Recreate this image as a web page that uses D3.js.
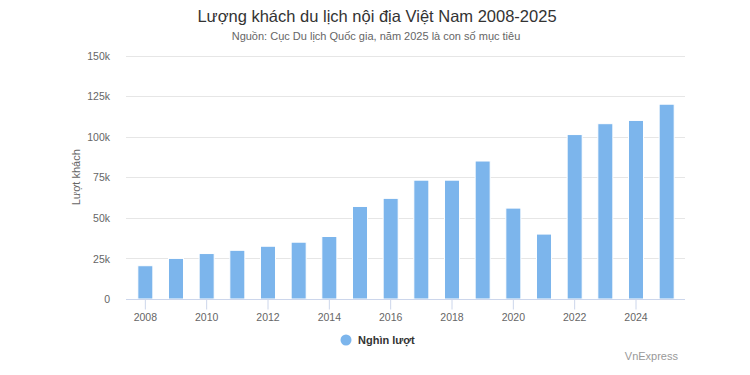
<!DOCTYPE html>
<html>
<head>
<meta charset="utf-8">
<script src="https://cdn.jsdelivr.net/npm/d3@7"></script>
<style>
  body { margin: 0; background: #fff; }
  svg { font-family: "Liberation Sans", Arial, sans-serif; }
</style>
</head>
<body>
<div id="chart"></div>
<script>
// Chart data
const years = [2008, 2009, 2010, 2011, 2012, 2013, 2014, 2015, 2016,
               2017, 2018, 2019, 2020, 2021, 2022, 2023, 2024, 2025];
const visitors = [20.5, 25, 28, 30, 32.5, 35, 38.5, 57, 62,
                  73.2, 73.2, 85, 56, 40, 101.3, 108, 110, 120];
const yTicks = [0, 25, 50, 75, 100, 125, 150];
const xTickYears = [2008, 2010, 2012, 2014, 2016, 2018, 2020, 2022, 2024];

const title = "Lượng khách du lịch nội địa Việt Nam 2008-2025";
const subtitle = "Nguồn: Cục Du lịch Quốc gia, năm 2025 là con số mục tiêu";
const seriesName = "Nghìn lượt";
const yTitle = "Lượt khách";

// Dimensions
const width = 750;
const height = 375;
const margin = {left: 130, right: 68, top: 55.5, bottom: 76};

const svg = d3.select("#chart")
  .append("svg")
  .attr("width", width)
  .attr("height", height);

// Scales
const xScale = d3.scaleBand()
  .domain(years)
  .range([margin.left, width - margin.right])
  .paddingInner(0.51)
  .paddingOuter(0.255);

const yScale = d3.scaleLinear()
  .domain([0, 150])
  .range([height - margin.bottom, margin.top]);

// Grid lines
svg.append("g")
  .selectAll("line")
  .data(yTicks.filter(d => d > 0))
  .enter()
  .append("line")
    .attr("x1", margin.left - 4)
    .attr("x2", width - margin.right + 3)
    .attr("y1", d => Math.round(yScale(d)) + 0.5)
    .attr("y2", d => Math.round(yScale(d)) + 0.5)
    .attr("stroke", "#e6e6e6")
    .attr("stroke-width", 1);

// Y axis labels
const yAxis = svg.append("g")
  .attr("transform", `translate(${margin.left - 20}, 0)`)
  .call(d3.axisLeft(yScale)
    .tickValues(yTicks)
    .tickSize(0)
    .tickPadding(0)
    .tickFormat(d => d === 0 ? "0" : d + "k"));
yAxis.select(".domain").remove();
yAxis.selectAll("text")
  .attr("fill", "#666666")
  .attr("font-size", "10.5px")
  .attr("dy", "0.35em");

// Y axis title
svg.append("text")
  .attr("transform", `translate(80, ${(margin.top + height - margin.bottom) / 2}) rotate(-90)`)
  .attr("text-anchor", "middle")
  .attr("fill", "#666666")
  .attr("font-size", "11px")
  .text(yTitle);

// Bars
svg.selectAll(".bar")
  .data(years)
  .enter()
  .append("rect")
    .attr("class", "bar")
    .attr("x", d => xScale(d))
    .attr("y", (d, i) => yScale(visitors[i]))
    .attr("width", xScale.bandwidth())
    .attr("height", (d, i) => yScale(0) - yScale(visitors[i]))
    .attr("fill", "#7cb5ec")
    .attr("stroke", "#ffffff")
    .attr("stroke-width", 1);

// X axis
const xAxis = svg.append("g")
  .attr("transform", `translate(0, ${Math.round(yScale(0)) + 0.5})`)
  .call(d3.axisBottom(xScale)
    .tickValues(xTickYears)
    .tickSize(10)
    .tickSizeOuter(0)
    .tickPadding(4));
xAxis.select(".domain")
  .attr("d", `M${margin.left - 4},0H${width - margin.right + 3}`)
  .attr("stroke", "#ccd6eb");
xAxis.selectAll(".tick line").attr("stroke", "#ccd6eb");
xAxis.selectAll("text")
  .attr("fill", "#666666")
  .attr("font-size", "10.5px");

// Title and subtitle
svg.append("text")
  .attr("x", 377)
  .attr("y", 22)
  .attr("text-anchor", "middle")
  .attr("fill", "#333333")
  .attr("font-size", "16.5px")
  .text(title);

svg.append("text")
  .attr("x", 376)
  .attr("y", 40)
  .attr("text-anchor", "middle")
  .attr("fill", "#666666")
  .attr("font-size", "11px")
  .text(subtitle);

// Legend
const legend = svg.append("g").attr("transform", "translate(346, 340)");
legend.append("circle")
  .attr("r", 5.5)
  .attr("fill", "#7cb5ec");
legend.append("text")
  .attr("x", 12)
  .attr("dy", "0.35em")
  .attr("fill", "#333333")
  .attr("font-size", "11px")
  .attr("font-weight", "bold")
  .text(seriesName);

// Credits
svg.append("text")
  .attr("x", 678)
  .attr("y", 360)
  .attr("text-anchor", "end")
  .attr("fill", "#999999")
  .attr("font-size", "11px")
  .text("VnExpress");
</script>
</body>
</html>
